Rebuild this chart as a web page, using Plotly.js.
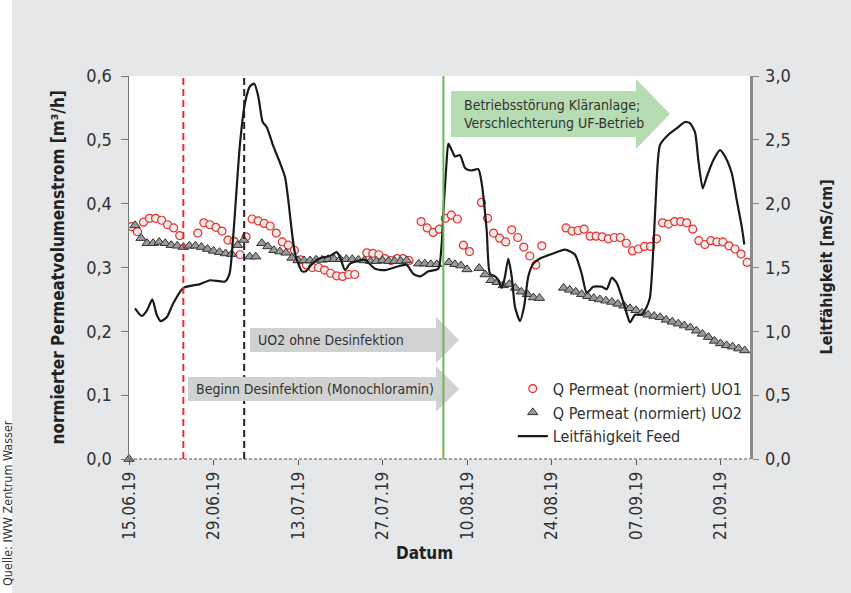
<!DOCTYPE html>
<html><head><meta charset="utf-8">
<script src="https://cdn.plot.ly/plotly-3.0.1.min.js"></script>
<style>html,body{margin:0;padding:0;background:#e6e7e9;}</style>
</head><body>
<div id="chart" style="width:851px;height:593px"></div>
<script>
// ---------- DATA (day offsets from 15.06.2019) ----------
const startDate = '2019-06-15';
const xTickLabels = ['15.06.19','29.06.19','13.07.19','27.07.19','10.08.19','24.08.19','07.09.19','21.09.19'];

const uo1Day = [0.4,1.4,2.4,3.4,4.4,5.4,6.4,7.4,8.4,
  11.4,12.4,13.4,14.4,15.4,16.4,17.4,18.4,19.4,20.4,21.4,22.4,23.4,24.4,25.4,26.4,27.4,28.4,29.4,30.4,31.4,32.4,33.4,34.4,35.4,36.4,37.4,
  39.4,40.4,41.4,42.4,43.4,44.4,45.4,46.4,
  48.4,49.4,50.4,51.4,52.4,53.4,54.4,55.4,56.4,
  58.4,59.4,60.4,61.4,62.4,63.4,64.4,65.4,66.4,67.4,68.4,
  72.4,73.4,74.4,75.4,76.4,77.4,78.4,79.4,80.4,81.4,82.4,83.4,84.4,85.4,86.4,87.4,88.4,89.4,90.4,91.4,92.4,93.4,94.4,95.4,96.4,97.4,98.4,99.4,100.4,101.4,102.4];
const uo1Val = [0.364,0.356,0.371,0.377,0.377,0.374,0.367,0.362,0.350,
  0.354,0.370,0.367,0.363,0.357,0.343,0.341,0.320,0.348,0.376,0.373,0.369,0.365,0.354,0.340,0.335,0.327,0.312,0.304,0.300,0.300,0.296,0.291,0.287,0.286,0.289,0.289,
  0.323,0.322,0.320,0.314,0.311,0.314,0.314,0.311,
  0.372,0.362,0.355,0.360,0.377,0.382,0.376,0.335,0.325,
  0.402,0.377,0.354,0.346,0.340,0.359,0.347,0.332,0.318,0.304,0.334,
  0.362,0.357,0.358,0.360,0.349,0.349,0.348,0.345,0.347,0.347,0.338,0.326,0.329,0.333,0.333,0.345,0.370,0.368,0.372,0.372,0.370,0.360,0.342,0.336,0.342,0.340,0.340,0.334,0.329,0.321,0.308];

const uo2Day = [0,1,2,3,4,5,6,7,8,9,10,11,12,13,14,15,16,17,18,19,20,21,22,23,24,25,26,27,28,29,30,31,32,33,34,35,36,37,38,39,40,41,42,43,44,45,46,
  48,49,50,51,53,54,55,56,58,59,60,61,62,63,64,65,66,67,68,
  72,73,74,75,76,77,78,79,80,81,82,83,84,85,86,87,88,89,90,91,92,93,94,95,96,97,98,99,100,101,102];
const uo2Val = [0.0,0.366,0.346,0.338,0.338,0.340,0.338,0.335,0.334,0.332,0.334,0.334,0.332,0.329,0.326,0.324,0.322,0.321,0.335,0.343,0.317,0.317,0.338,0.333,0.327,0.325,0.323,0.315,0.311,0.311,0.311,0.312,0.312,0.313,0.313,0.313,0.313,0.313,0.312,0.311,0.310,0.310,0.311,0.310,0.310,0.310,0.311,
  0.306,0.306,0.305,0.305,0.308,0.305,0.303,0.297,0.299,0.289,0.280,0.277,0.272,0.274,0.268,0.262,0.258,0.253,0.252,
  0.268,0.265,0.262,0.258,0.255,0.252,0.250,0.248,0.246,0.243,0.240,0.236,0.233,0.229,0.226,0.224,0.222,0.218,0.215,0.212,0.209,0.206,0.201,0.196,0.191,0.185,0.181,0.178,0.176,0.173,0.170];

const condDay = [0.99,2.10,2.93,3.86,4.59,5.25,6.25,7.34,9.0,11.76,13.42,15.9,16.65,17.23,17.73,18.39,19.22,20.05,20.76,21.42,22.15,22.81,23.91,25.02,25.84,26.39,26.95,27.50,28.05,28.66,29.32,29.99,31.10,32.19,33.30,34.41,34.96,35.79,36.61,37.72,39.10,40.76,42.41,44.62,46.01,47.10,48.21,49.59,51.24,51.81,52.07,52.63,52.90,53.46,54.01,54.84,55.67,56.66,57.87,58.43,59.26,59.81,60.64,61.18,61.75,62.29,62.84,63.40,63.95,64.78,65.44,66.15,66.98,68.09,70.30,72.23,73.89,75.0,75.83,76.92,78.31,79.14,79.97,80.80,81.63,82.46,83.0,83.83,84.94,85.77,86.32,86.86,87.26,87.97,89.35,90.74,92.12,92.94,93.77,94.32,95.05,95.71,96.80,97.91,98.74,99.85,100.68,101.51,101.94];
const condVal = [1.18,1.12,1.16,1.25,1.13,1.08,1.11,1.22,1.34,1.37,1.40,1.39,1.45,1.72,2.05,2.47,2.79,2.92,2.94,2.84,2.64,2.60,2.45,2.32,2.21,2.03,1.79,1.61,1.53,1.47,1.47,1.51,1.56,1.58,1.59,1.62,1.58,1.48,1.53,1.55,1.56,1.49,1.48,1.51,1.52,1.45,1.43,1.47,1.49,1.69,1.92,2.34,2.47,2.42,2.37,2.38,2.28,2.26,2.27,2.16,1.79,1.45,1.43,1.40,1.34,1.43,1.57,1.43,1.19,1.08,1.19,1.43,1.53,1.57,1.61,1.64,1.60,1.45,1.30,1.35,1.35,1.33,1.42,1.38,1.27,1.14,1.07,1.13,1.13,1.19,1.27,1.64,2.03,2.46,2.54,2.59,2.64,2.63,2.56,2.34,2.12,2.21,2.34,2.42,2.37,2.24,2.03,1.82,1.68];

const eventRed = '2019-06-24 00:00';
const eventBlack = '2019-07-04 02:00';
const eventGreen = '2019-08-06 02:00';

// ---------- helpers ----------
const base = Date.UTC(2019,5,15);
function toDate(d){ return new Date(base + d*86400000).toISOString().slice(0,19).replace('T',' '); }
const W=851,H=593,L=129,R=101,T=76,B=134;
const pw=W-L-R, ph=H-T-B;
const px = x => (x-L)/pw;
const py = y => (H-B-y)/ph;
function arrowPath(x0,x1,xt,yb0,yb1,yh0,yh1){
  const ym=(yb0+yb1)/2;
  const pts=[[x0,yb0],[x1,yb0],[x1,yh0],[xt,ym],[x1,yh1],[x1,yb1],[x0,yb1]];
  return 'M'+pts.map(p=>px(p[0]).toFixed(4)+','+py(p[1]).toFixed(4)).join(' L')+' Z';
}

const FONT='"Liberation Sans Narrow", "DejaVu Sans Condensed", "Arial Narrow", sans-serif';
const tickVals = xTickLabels.map(s=>{const [d,m,y]=s.split('.');return '20'+y+'-'+m+'-'+d;});

const traces = [
 {x:uo1Day.map(toDate), y:uo1Val, type:'scatter', mode:'markers', name:'Q Permeat (normiert) UO1',
  marker:{symbol:'circle', size:8, color:'#ececec', line:{color:'#e8302a', width:1.2}}},
 {x:uo2Day.map(toDate), y:uo2Val, type:'scatter', mode:'markers', name:'Q Permeat (normiert) UO2', cliponaxis:false,
  marker:{symbol:'triangle-up', size:9, color:'#999999', line:{color:'#333', width:1}}},
 {x:condDay.map(toDate), y:condVal, type:'scatter', mode:'lines', name:'Leitfähigkeit Feed', yaxis:'y2',
  line:{color:'#1a1a1a', width:2.2, shape:'spline', smoothing:0.6}}
];

const layout = {
 width:W, height:H, margin:{l:L,r:R,t:T,b:B},
 paper_bgcolor:'#e6e7e9', plot_bgcolor:'#ffffff',
 separators:',.',
 font:{family:FONT, size:18, color:'#222'},
 showlegend:true,
 legend:{x:0.618, y:0.228, xanchor:'left', yanchor:'top', bgcolor:'rgba(0,0,0,0)',
   font:{family:FONT, size:16, color:'#333'}, tracegroupgap:0},
 xaxis:{type:'date', range:[toDate(0), toDate(102.88)], tickmode:'array', tickvals:tickVals, ticktext:xTickLabels,
   tickangle:-90, ticks:'outside', ticklen:5, tickcolor:'#555', showline:false, showgrid:false, zeroline:false,
   tickfont:{family:FONT, size:17, color:'#333'}},
 yaxis:{range:[0,0.6], dtick:0.1, tickformat:'.1f', ticks:'outside', ticklen:7, tickcolor:'#777',
   showline:true, linecolor:'#777', linewidth:1.5, showgrid:false, zeroline:false, ticklabelstandoff:5,
   tickfont:{family:FONT, size:18, color:'#333'}},
 yaxis2:{range:[0,3], dtick:0.5, tickformat:'.1f', overlaying:'y', side:'right', ticks:'outside', ticklen:6, tickcolor:'#888',
   showline:true, linecolor:'#8a8a8a', linewidth:2.5, showgrid:false, zeroline:false, ticklabelstandoff:3,
   tickfont:{family:FONT, size:18, color:'#333'}},
 shapes:[
  {type:'rect', xref:'paper', yref:'paper', x0:px(0), x1:px(12), y0:py(H), y1:py(0), fillcolor:'#ffffff', line:{width:0}, layer:'above'},
  {type:'line', xref:'paper', yref:'paper', x0:0, x1:1, y0:0, y1:0, line:{color:'#555', width:1, dash:'3px,2px'}, layer:'above'},
  {type:'line', xref:'x', yref:'paper', x0:eventRed, x1:eventRed, y0:0, y1:1, line:{color:'#e8302a', width:2, dash:'7px,4px'}, layer:'above'},
  {type:'line', xref:'x', yref:'paper', x0:eventBlack, x1:eventBlack, y0:0, y1:1, line:{color:'#222', width:2, dash:'7px,4px'}, layer:'above'},
  {type:'path', xref:'paper', yref:'paper', path:arrowPath(250,436,459,328,352,317,363), fillcolor:'#d0d1d1', line:{width:0}, layer:'above'},
  {type:'path', xref:'paper', yref:'paper', path:arrowPath(188,436,459,377,401,366,412), fillcolor:'#d0d1d1', line:{width:0}, layer:'above'},
  {type:'path', xref:'paper', yref:'paper', path:arrowPath(451,636,670,91,137,79,149), fillcolor:'#b5dcb2', line:{width:0}, layer:'above'},
  {type:'line', xref:'x', yref:'paper', x0:eventGreen, x1:eventGreen, y0:0, y1:1, line:{color:'#6cb84f', width:2}, layer:'above'}
 ],
 annotations:[
  {xref:'paper', yref:'paper', x:px(462), y:py(114), xanchor:'left', yanchor:'middle', align:'left', showarrow:false,
   text:'Betriebsstörung Kläranlage;<br>Verschlechterung UF-Betrieb', font:{family:FONT, size:14, color:'#333'}},
  {xref:'paper', yref:'paper', x:px(256), y:py(340), xanchor:'left', yanchor:'middle', showarrow:false,
   text:'UO2 ohne Desinfektion', font:{family:FONT, size:14, color:'#333'}},
  {xref:'paper', yref:'paper', x:px(194), y:py(389), xanchor:'left', yanchor:'middle', showarrow:false,
   text:'Beginn Desinfektion (Monochloramin)', font:{family:FONT, size:14, color:'#333'}},
  {xref:'paper', yref:'paper', x:px(57), y:0.5, xanchor:'center', yanchor:'middle', textangle:-90, showarrow:false,
   text:'<b>normierter Permeatvolumenstrom [m³/h]</b>', font:{family:FONT, size:17, color:'#222'}},
  {xref:'paper', yref:'paper', x:px(826), y:0.5, xanchor:'center', yanchor:'middle', textangle:-90, showarrow:false,
   text:'<b>Leitfähigkeit [mS/cm]</b>', font:{family:FONT, size:16, color:'#222'}},
  {xref:'paper', yref:'paper', x:px(424), y:py(553), xanchor:'center', yanchor:'middle', showarrow:false,
   text:'<b>Datum</b>', font:{family:FONT, size:17, color:'#222'}},
  {xref:'paper', yref:'paper', x:px(8), y:py(503), xanchor:'center', yanchor:'middle', textangle:-90, showarrow:false,
   text:'Quelle: IWW Zentrum Wasser', font:{family:FONT, size:12.5, color:'#333'}}
 ]
};

Plotly.newPlot('chart', traces, layout, {displayModeBar:false, staticPlot:true});
</script>
</body></html>
